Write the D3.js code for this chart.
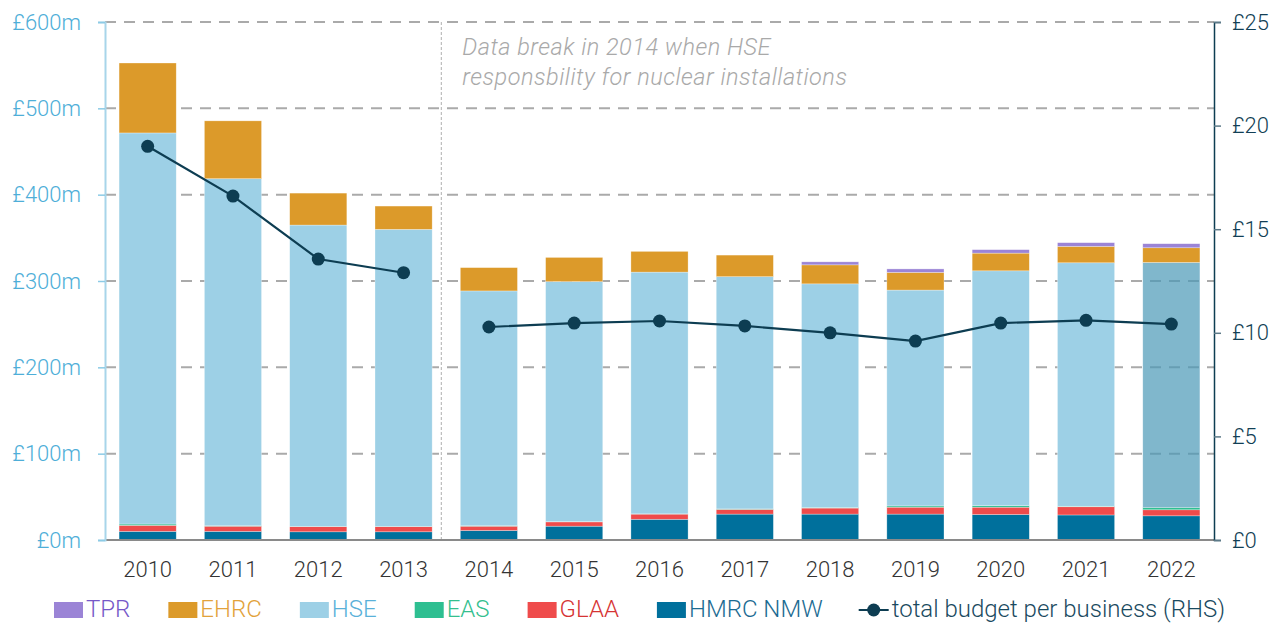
<!DOCTYPE html>
<html>
<head>
<meta charset="utf-8">
<script src="https://cdn.jsdelivr.net/npm/d3@7"></script>
<style>
  body { margin: 0; background: #fff; }
  svg { font-family: Roboto, "Noto Sans", sans-serif; font-weight: 300; }
</style>
</head>
<body>
<svg width="1286" height="626"></svg>
<script>
// values in £m
var years = ["2010","2011","2012","2013","2014","2015","2016","2017","2018","2019","2020","2021","2022"];
var hmrcNmw = [10, 10, 9.5, 9.5, 11, 16, 24, 30, 30, 30, 29.5, 29, 28];
var glaa    = [7, 6, 6, 6, 5, 5, 6, 5.5, 7, 8, 8.5, 9.5, 7];
var eas     = [1.5, 0.5, 0.3, 0.3, 0.5, 0.3, 0.3, 0.5, 0.7, 1.5, 1.8, 0.6, 2.5];
var hse     = [453, 402, 349, 344, 272, 278, 280, 269, 259, 250, 272, 282, 284];
var ehrc    = [81, 67, 37, 27, 27, 28, 24, 25, 22, 20.5, 20.5, 19, 17];
var tpr     = [0, 0, 0, 0, 0, 0, 0, 0, 3.5, 4, 4, 4.3, 4.7];
// £ per business (right hand scale)
var perBusiness = [19.0, 16.6, 13.56, 12.9, 10.28, 10.47, 10.57, 10.33, 10.0, 9.6, 10.47, 10.6, 10.42];

var leftTicks = [0, 100, 200, 300, 400, 500, 600];
var rightTicks = [0, 5, 10, 15, 20, 25];
var breakYear = "2014";
var highlightYear = "2022";

var series = [
  {key: "HMRC NMW", values: hmrcNmw, fill: "#00709c", text: "#1b6b92"},
  {key: "GLAA", values: glaa, fill: "#ef4b4b", text: "#d63434"},
  {key: "EAS", values: eas, fill: "#2ebf91", text: "#35bf8f"},
  {key: "HSE", values: hse, fill: "#9dd0e6", text: "#5ab1d9"},
  {key: "EHRC", values: ehrc, fill: "#dc9a2a", text: "#e2a23a"},
  {key: "TPR", values: tpr, fill: "#9b84d6", text: "#7658c8"}
];

var svg = d3.select("svg"),
    plotLeft = 105, plotRight = 1214, plotTop = 22, plotBottom = 540;

var x = d3.scaleBand().domain(years).range([plotLeft, plotRight]).paddingInner(0.33).paddingOuter(0.165);
var y = d3.scaleLinear().domain([0, 600]).range([plotBottom, plotTop]);
var y2 = d3.scaleLinear().domain([0, 25]).range([plotBottom, plotTop]);

// gridlines
svg.append("g").selectAll("line")
    .data(leftTicks.filter(function(d) { return d > 0; }))
    .enter().append("line")
    .attr("x1", plotLeft).attr("x2", plotRight)
    .attr("y1", function(d) { return y(d); })
    .attr("y2", function(d) { return y(d); })
    .attr("stroke", "#aaaaaa")
    .attr("stroke-width", 2)
    .attr("stroke-dasharray", "11,8");

// stacked bars
var rows = years.map(function(yr, i) {
  var r = {year: yr};
  series.forEach(function(s) { r[s.key] = s.values[i]; });
  return r;
});
var stacked = d3.stack().keys(series.map(function(s) { return s.key; }))(rows);

svg.append("g").selectAll("g")
    .data(stacked)
    .enter().append("g")
    .each(function(layer, li) {
      d3.select(this).selectAll("rect")
        .data(layer)
        .enter().append("rect")
        .attr("x", function(d) { return x(d.data.year); })
        .attr("width", x.bandwidth())
        .attr("y", function(d) { return y(d[1]); })
        .attr("height", function(d) { return Math.max(0, y(d[0]) - y(d[1])); })
        .attr("fill", function(d) {
          if (layer.key === "HSE" && d.data.year === highlightYear) return "#4a98b6";
          return series[li].fill;
        })
        .attr("fill-opacity", function(d) {
          return (layer.key === "HSE" && d.data.year === highlightYear) ? 0.7 : 1;
        })
        .attr("stroke", "#fff")
        .attr("stroke-width", 0.6)
        .attr("stroke-opacity", 0.5);
    });

// data break marker
var breakX = x(breakYear) - 19;
svg.append("line")
    .attr("x1", breakX).attr("x2", breakX)
    .attr("y1", plotTop).attr("y2", plotBottom)
    .attr("stroke", "#b0b0b0")
    .attr("stroke-width", 1)
    .attr("stroke-dasharray", "3,2");

var note = svg.append("text")
    .attr("x", breakX + 21)
    .attr("y", 55)
    .attr("fill", "#a9a9a9")
    .style("font-style", "italic")
    .style("font-size", "23.5px")
    .style("letter-spacing", "0.5px");
note.append("tspan").attr("x", breakX + 21).text("Data break in 2014 when HSE");
note.append("tspan").attr("x", breakX + 21).attr("dy", 30).text("responsbility for nuclear installations");

// baseline
svg.append("line")
    .attr("x1", plotLeft).attr("x2", plotRight)
    .attr("y1", plotBottom).attr("y2", plotBottom)
    .attr("stroke", "#8a8a8a")
    .attr("stroke-width", 2);

// left axis
var yAxis = svg.append("g")
    .attr("transform", "translate(" + plotLeft + ",0)")
    .call(d3.axisLeft(y).tickValues(leftTicks).tickSize(7).tickPadding(17)
      .tickFormat(function(d) { return "£" + d + "m"; }));
yAxis.select(".domain").attr("stroke", "#a8d5ea").attr("stroke-width", 2);
yAxis.selectAll(".tick line").attr("stroke", "#8ccbe6").attr("stroke-width", 1.5);
yAxis.selectAll(".tick text").attr("fill", "#4eaed8").style("font-size", "22px").style("font-family", "Roboto, sans-serif");

// right axis
var y2Axis = svg.append("g")
    .attr("transform", "translate(" + plotRight + ",0)")
    .call(d3.axisRight(y2).tickValues(rightTicks).tickSize(7).tickPadding(11)
      .tickFormat(function(d) { return "£" + d; }));
y2Axis.select(".domain").attr("stroke", "#0d3d52").attr("stroke-width", 1.5);
y2Axis.selectAll(".tick line").attr("stroke", "#5d7a88").attr("stroke-width", 1.5);
y2Axis.selectAll(".tick text").attr("fill", "#123f55").style("font-size", "22px").style("font-family", "Roboto, sans-serif");

// x axis labels
var xAxis = svg.append("g")
    .attr("transform", "translate(0," + plotBottom + ")")
    .call(d3.axisBottom(x).tickSize(0).tickPadding(21));
xAxis.select(".domain").remove();
xAxis.selectAll(".tick text").attr("fill", "#333").style("font-size", "22px").style("font-family", "Roboto, sans-serif");

// per-business line, split at the data break
var pts = years.map(function(yr, i) { return {year: yr, v: perBusiness[i]}; });
var line = d3.line()
    .x(function(d) { return x(d.year) + x.bandwidth() / 2; })
    .y(function(d) { return y2(d.v); });
var breakIdx = years.indexOf(breakYear);
[pts.slice(0, breakIdx), pts.slice(breakIdx)].forEach(function(seg) {
  svg.append("path")
      .datum(seg)
      .attr("d", line)
      .attr("fill", "none")
      .attr("stroke", "#0d3d52")
      .attr("stroke-width", 2.2);
});
svg.append("g").selectAll("circle")
    .data(pts)
    .enter().append("circle")
    .attr("cx", function(d) { return x(d.year) + x.bandwidth() / 2; })
    .attr("cy", function(d) { return y2(d.v); })
    .attr("r", 6.5)
    .attr("fill", "#0d3d52");

// legend
var legendOrder = ["TPR", "EHRC", "HSE", "EAS", "GLAA", "HMRC NMW"];
var lx = 54, ly = 609;
legendOrder.forEach(function(k) {
  var s = series.filter(function(d) { return d.key === k; })[0];
  svg.append("rect")
      .attr("x", lx).attr("y", ly - 7)
      .attr("width", 29).attr("height", 16)
      .attr("fill", s.fill);
  var t = svg.append("text")
      .attr("x", lx + 32).attr("y", ly + 8)
      .attr("fill", s.text)
      .style("font-size", "24px")
      .text(k);
  lx += 32 + t.node().getComputedTextLength() + 38;
});
svg.append("line")
    .attr("x1", lx - 2).attr("x2", lx + 28)
    .attr("y1", ly + 1).attr("y2", ly + 1)
    .attr("stroke", "#0d3d52").attr("stroke-width", 2);
svg.append("circle")
    .attr("cx", lx + 13).attr("cy", ly + 1).attr("r", 6.5)
    .attr("fill", "#0d3d52");
svg.append("text")
    .attr("x", lx + 31).attr("y", ly + 8)
    .attr("fill", "#1a4a60")
    .style("font-size", "24px")
    .text("total budget per business (RHS)");
</script>
</body>
</html>
